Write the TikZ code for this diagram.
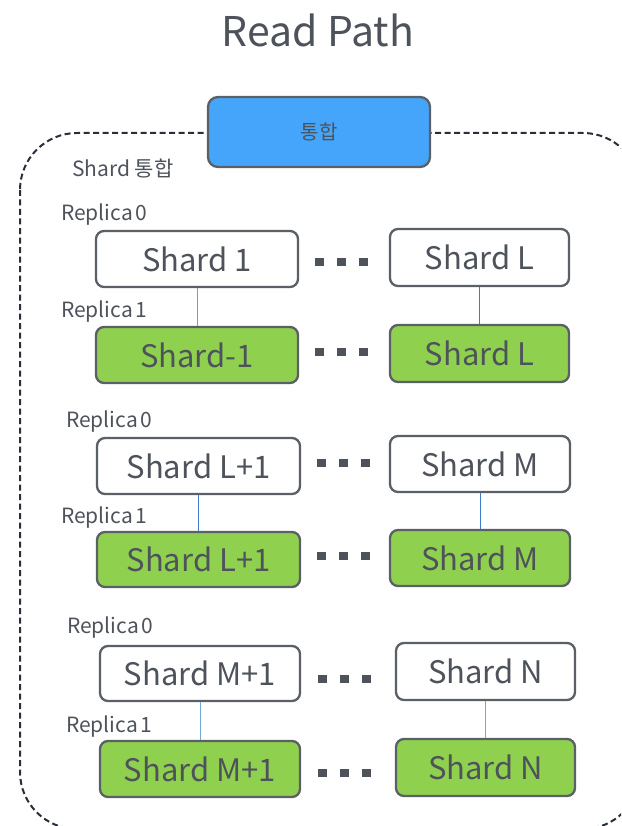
\documentclass[tikz,border=0pt]{standalone}
\usepackage{fontspec}
\setmainfont{Noto Sans CJK KR}
\definecolor{inkgray}{HTML}{4E535B}
\definecolor{edgegray}{HTML}{5B5F66}
\definecolor{boxgreen}{HTML}{8FD14F}
\definecolor{boxblue}{HTML}{45A5FA}
\definecolor{framenavy}{HTML}{2A2E3A}
\definecolor{linkblue}{HTML}{3D7DC6}
\definecolor{linklight}{HTML}{6FA8DC}
\tikzset{
  shardbox/.style={draw=edgegray, line width=2.3pt, rounded corners=8pt,
    inner sep=0pt, text=inkgray, font=\fontsize{31}{34}\selectfont},
  replica/.style={shardbox, fill=white},
  primary/.style={shardbox, fill=boxgreen},
  mergebox/.style={draw=edgegray, line width=2.3pt, rounded corners=10pt,
    fill=boxblue, inner sep=0pt, minimum width=222pt, minimum height=70pt,
    text=inkgray, font=\fontsize{20}{22}\selectfont},
  tag/.style={anchor=west, inner sep=0pt, text=inkgray,
    font=\fontsize{21}{24}\selectfont},
  link/.style={draw=linkblue, line width=1pt},
  dotsq/.style={fill=inkgray}
}
% three square dots between a pair of boxes
\newcommand{\dotrow}[2]{%
  \foreach \k in {0,1,2} {\fill[dotsq] (#1+22*\k,#2-4.3) rectangle ++(8.6,8.6);}}
% label text with a narrow gap before the index
\newcommand{\rep}[1]{Replica\hspace{3pt}#1}
\begin{document}
\begin{tikzpicture}[x=1pt, y=-1pt]
\useasboundingbox (0,0) rectangle (621,826);

% outer dashed group frame, running past the page edge
\begin{scope}
  \clip (0,0) rectangle (621,826);
  \draw[framenavy, line width=2pt, dash pattern=on 6pt off 3.5pt,
        rounded corners=57pt] (20,133) rectangle (640,829);
\end{scope}

% title
\node[text=inkgray, font=\fontsize{41}{46}\selectfont] (title) at (318,30) {Read Path};

% merge box on the frame
\node[mergebox] (merge) at (319,132) {통합};
\node[tag] (grouplabel) at (72,169) {Shard 통합};

% group 1
\node[tag] (r0a) at (61,215) {\rep{0}};
\node[tag] (r1a) at (61,312) {\rep{1}};
\node[replica, minimum width=202pt, minimum height=56pt] (a0) at (197,259) {Shard 1};
\node[replica, minimum width=179pt, minimum height=57pt] (b0) at (479.5,257.5) {Shard L};
\node[primary, minimum width=202pt, minimum height=56pt] (a1) at (197,355) {Shard-1};
\node[primary, minimum width=179pt, minimum height=57pt] (b1) at (479.5,353.5) {Shard L};
\draw[link, draw=linklight!80!gray] (a0) -- (a1);
\draw[link] (b0) -- (b1);
\dotrow{315}{262}
\dotrow{315}{352}

% group 2
\node[tag] (r0b) at (66,422) {\rep{0}};
\node[tag] (r1b) at (61,518) {\rep{1}};
\node[replica, minimum width=203pt, minimum height=56pt] (c0) at (198.5,466) {Shard L+1};
\node[replica, minimum width=180pt, minimum height=56pt] (d0) at (480,464) {Shard M};
\node[primary, minimum width=203pt, minimum height=55pt] (c1) at (198.5,559.5) {Shard L+1};
\node[primary, minimum width=180pt, minimum height=56pt] (d1) at (480,558) {Shard M};
\draw[link] (c0) -- (c1);
\draw[link] (d0) -- (d1);
\dotrow{317}{463}
\dotrow{317}{556}

% group 3
\node[tag] (r0c) at (67,628) {\rep{0}};
\node[tag] (r1c) at (66,727) {\rep{1}};
\node[replica, minimum width=200pt, minimum height=55pt] (e0) at (200,673.5) {Shard M+1};
\node[replica, minimum width=179pt, minimum height=57pt] (f0) at (485.5,671.5) {Shard N};
\node[primary, minimum width=200pt, minimum height=56pt] (e1) at (200,769) {Shard M+1};
\node[primary, minimum width=179pt, minimum height=57pt] (f1) at (485.5,767.5) {Shard N};
\draw[link, draw=linklight] (e0) -- (e1);
\draw[link, draw=linklight] (f0) -- (f1);
\dotrow{318}{679}
\dotrow{318}{773}
\end{tikzpicture}
\end{document}
